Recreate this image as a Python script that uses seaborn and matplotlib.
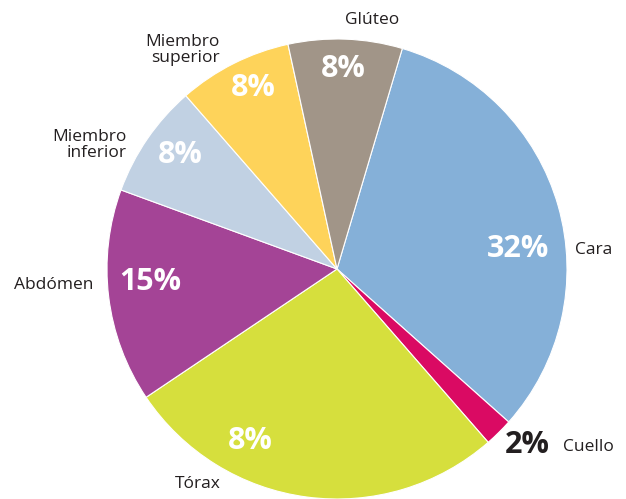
import seaborn as sns
import matplotlib.pyplot as plt

# Data (clockwise from the top-right)
categories = ["Cara", "Cuello", "Tórax", "Abdómen", "Miembro\ninferior", "Miembro\nsuperior", "Glúteo"]
values = [32, 2, 27, 15, 8, 8, 8]
pct_labels = ["32%", "2%", "8%", "15%", "8%", "8%", "8%"]
colors = ["#85B0D8", "#DA0A63", "#D6DF3D", "#A44496", "#C1D1E3", "#FED35A", "#A19588"]

sns.set_theme(style="white")
plt.rcParams['font.family'] = ['Open Sans', 'DejaVu Sans']

W, H = 626, 499
fig = plt.figure(figsize=(W / 100, H / 100), dpi=100)

# pie centre and radius in pixels
cx, cy, r = 337, 269, 230
ax = fig.add_axes([(cx - r) / W, (H - cy - r) / H, 2 * r / W, 2 * r / H])
ax.pie(values, colors=colors, startangle=73.5, counterclock=False, radius=1,
       wedgeprops=dict(edgecolor="white", linewidth=0.8))
ax.set_xlim(-1, 1)
ax.set_ylim(-1, 1)
ax.axis("off")


def ftxt(x, y, s, **kw):
    fig.text(x / W, 1 - y / H, s, **kw)


# category labels (pixel positions)
lab_pos = [(575, 250, "left"), (563, 447, "left"), (198, 484, "center"),
           (93, 285, "right"), (127, 145, "right"), (220, 50, "right"),
           (372, 20, "center")]
for name, (x, y, ha) in zip(categories, lab_pos):
    ftxt(x, y, name, ha=ha, va="center", fontsize=12.5, color="#231F20",
         linespacing=1.05, multialignment="right" if ha == "right" else "left")

# percentage labels
pct_pos = [(518, 249), (527, 445), (250, 441), (150, 282), (180, 155), (253, 88), (343, 69)]
for s, (x, y) in zip(pct_labels, pct_pos):
    col = "#231F20" if s == "2%" else "white"
    ftxt(x, y, s, ha="center", va="center", fontsize=22, fontweight="bold", color=col)

fig.savefig("out.png", dpi=100)
